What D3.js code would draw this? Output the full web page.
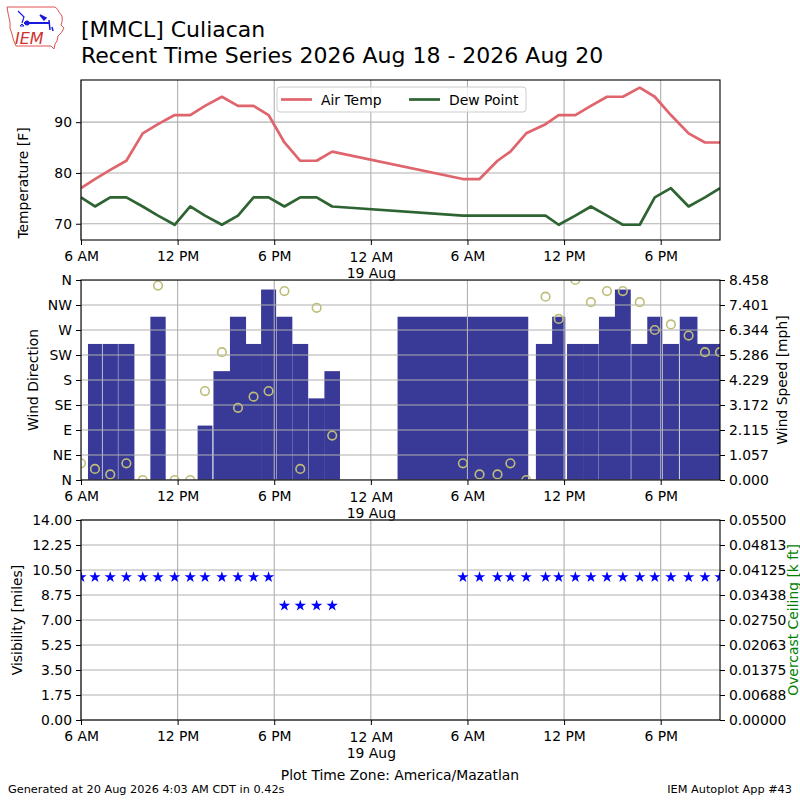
<!DOCTYPE html>
<html>
<head>
<meta charset="utf-8">
<script src="https://cdn.jsdelivr.net/npm/d3@7"></script>
<style>
  body { margin: 0; background: #fff; }
  svg { display: block; }
  text { font-family: "DejaVu Sans", sans-serif; }
</style>
</head>
<body>
<svg id="chart" width="800" height="800"></svg>
<script>
// observation times (local, America/Mazatlan)
const obsTimes = [
  "2026-08-18 06:00", "2026-08-18 06:52", "2026-08-18 07:49", "2026-08-18 08:49",
  "2026-08-18 09:50", "2026-08-18 10:47", "2026-08-18 11:49", "2026-08-18 12:47",
  "2026-08-18 13:42", "2026-08-18 14:45", "2026-08-18 15:45", "2026-08-18 16:43",
  "2026-08-18 17:39", "2026-08-18 18:38", "2026-08-18 19:37", "2026-08-18 20:38",
  "2026-08-18 21:36",
  "2026-08-19 05:43", "2026-08-19 06:45", "2026-08-19 07:52", "2026-08-19 08:40",
  "2026-08-19 09:39", "2026-08-19 10:51", "2026-08-19 11:40", "2026-08-19 12:42",
  "2026-08-19 13:40", "2026-08-19 14:40", "2026-08-19 15:39", "2026-08-19 16:42",
  "2026-08-19 17:38", "2026-08-19 18:38", "2026-08-19 19:44", "2026-08-19 20:45",
  "2026-08-19 21:41"
];
const airTempF = [
  77, 78.8, 80.6, 82.4, 87.8, 89.6, 91.4, 91.4, 93.2, 95, 93.2, 93.2, 91.4, 86, 82.4, 82.4, 84.2,
  78.8, 78.8, 82.4, 84.2, 87.8, 89.6, 91.4, 91.4, 93.2, 95, 95, 96.8, 95, 91.4, 87.8, 86, 86
];
const dewPointF = [
  75.2, 73.4, 75.2, 75.2, 73.4, 71.6, 69.8, 73.4, 71.6, 69.8, 71.6, 75.2, 75.2, 73.4, 75.2, 75.2, 73.4,
  71.6, 71.6, 71.6, 71.6, 71.6, 71.6, 69.8, 71.6, 73.4, 71.6, 69.8, 69.8, 75.2, 77, 73.4, 75.2, 77
];
const windDirDeg = [
  30, 20, 10, 30, 0, 350, 0, 0, 160, 230, 130, 150, 160, 340, 20, 310, 80,
  30, 10, 10, 30, 0, 330, 290, 360, 320, 340, 340, 320, 270, 280, 260, 230, 230
];
const windSpeedKt = [
  5, 5, 5, 5, 0, 6, 0, 0, 2, 4, 6, 5, 7, 6, 5, 3, 4,
  6, 5, 4, 5, 0, 5, 6, 5, 5, 6, 7, 5, 6, 5, 6, 5, 5
];
const visibilityMi = [
  10, 10, 10, 10, 10, 10, 10, 10, 10, 10, 10, 10, 10, 8, 8, 8, 8,
  10, 10, 10, 10, 10, 10, 10, 10, 10, 10, 10, 10, 10, 10, 10, 10, 10
];
const tempTicks = [70, 80, 90];
const dirLabels = ["N", "NE", "E", "SE", "S", "SW", "W", "NW", "N"];
const visTicks = [0, 1.75, 3.5, 5.25, 7, 8.75, 10.5, 12.25, 14];
const ceilTickLabels = ["0.00000", "0.00688", "0.01375", "0.02063", "0.02750",
                        "0.03438", "0.04125", "0.04813", "0.05500"];

const parse = d3.timeParse("%Y-%m-%d %H:%M");
const times = obsTimes.map(parse);
const obs = times.map((t, i) => ({
  t: t,
  prev: i > 0 ? times[i - 1] : t,
  temp: airTempF[i],
  dew: dewPointF[i],
  dir: windDirDeg[i],
  mph: windSpeedKt[i] * 1.15078,
  vis: visibilityMi[i]
}));

const svg = d3.select("#chart");
const FS = 13.9;
const left = 81, right = 720;
const grid = "#b0b0b0";

const x = d3.scaleTime().domain(d3.extent(times)).range([left, right]);
const xTicks = d3.timeHour.every(6).range(times[0], new Date(+times[times.length - 1] + 1));

// panel frames
const panels = {
  temp: { top: 80, bottom: 240 },
  wind: { top: 280, bottom: 480 },
  vis: { top: 520, bottom: 720 }
};

const defs = svg.append("defs");
Object.entries(panels).forEach(([k, p]) => {
  defs.append("clipPath").attr("id", "clip-" + k)
    .append("rect").attr("x", left).attr("y", p.top)
    .attr("width", right - left).attr("height", p.bottom - p.top);
});

function xGrid(g, p) {
  g.selectAll(null).data(xTicks).enter().append("line")
    .attr("x1", d => x(d)).attr("x2", d => x(d))
    .attr("y1", p.top).attr("y2", p.bottom)
    .attr("stroke", grid).attr("stroke-width", 1.1);
}
function yGrid(g, vals, scale) {
  g.selectAll(null).data(vals).enter().append("line")
    .attr("x1", left).attr("x2", right)
    .attr("y1", d => scale(d)).attr("y2", d => scale(d))
    .attr("stroke", grid).attr("stroke-width", 1.1);
}
function xAxis(p) {
  const g = svg.append("g").attr("transform", `translate(0,${p.bottom})`)
    .call(d3.axisBottom(x).tickValues(xTicks).tickSize(5).tickPadding(6).tickSizeOuter(0)
      .tickFormat(d => d.getHours() === 0 ? "12 AM" : d3.timeFormat("%-I %p")(d)));
  g.select(".domain").remove();
  g.selectAll("text").attr("font-size", FS).attr("fill", "#000");
  g.selectAll(".tick").filter(d => d.getHours() === 0).select("text")
    .attr("y", 12.5)
    .append("tspan").attr("x", 0).attr("dy", "1.12em").text(d => d3.timeFormat("%-d %b")(d));
  g.selectAll(".tick line").attr("stroke", "#000");
}
function styleAxis(g) {
  g.select(".domain").remove();
  g.selectAll("text").attr("font-size", FS).attr("fill", "#000").attr("font-family", "DejaVu Sans");
  g.selectAll(".tick line").attr("stroke", "#000");
}
function frame(p) {
  svg.append("rect").attr("x", left).attr("y", p.top)
    .attr("width", right - left).attr("height", p.bottom - p.top)
    .attr("fill", "none").attr("stroke", "#000").attr("stroke-width", 1.1);
}
function yLabel(txt, cx, cy, color) {
  svg.append("text").attr("transform", `translate(${cx},${cy}) rotate(-90)`)
    .attr("text-anchor", "middle").attr("dominant-baseline", "central")
    .attr("font-size", FS).attr("fill", color || "#000").text(txt);
}

// ---------- temperature panel ----------
const pT = panels.temp;
const yT = d3.scaleLinear().domain([66.8, 98.3]).range([pT.bottom, pT.top]);
const gT = svg.append("g");
xGrid(gT, pT);
yGrid(gT, tempTicks, yT);
const clipT = svg.append("g").attr("clip-path", "url(#clip-temp)");
clipT.append("path").datum(obs)
  .attr("d", d3.line().x(d => x(d.t)).y(d => yT(d.temp)))
  .attr("fill", "none").attr("stroke", "#e0646c").attr("stroke-width", 2.7)
  .attr("stroke-linejoin", "round");
clipT.append("path").datum(obs)
  .attr("d", d3.line().x(d => x(d.t)).y(d => yT(d.dew)))
  .attr("fill", "none").attr("stroke", "#2e6432").attr("stroke-width", 2.7)
  .attr("stroke-linejoin", "round");
svg.append("g").attr("transform", `translate(${left},0)`)
  .call(d3.axisLeft(yT).tickValues(tempTicks).tickSize(5).tickPadding(4))
  .call(styleAxis);
xAxis(pT);
frame(pT);
yLabel("Temperature [F]", 23, 183);

// legend
const leg = svg.append("g").attr("transform", "translate(277,87)");
leg.append("rect").attr("width", 249).attr("height", 25).attr("rx", 3)
  .attr("fill", "#fff").attr("fill-opacity", 0.8).attr("stroke", "#cccccc");
const legItems = [
  { name: "Air Temp", color: "#e0646c", x: 4 },
  { name: "Dew Point", color: "#2e6432", x: 132 }
];
legItems.forEach(it => {
  leg.append("line").attr("x1", it.x).attr("x2", it.x + 31).attr("y1", 12.5).attr("y2", 12.5)
    .attr("stroke", it.color).attr("stroke-width", 2.7);
  leg.append("text").attr("x", it.x + 40).attr("y", 17.5).attr("font-size", FS).text(it.name);
});

// ---------- wind panel ----------
const pW = panels.wind;
const yDir = d3.scaleLinear().domain([0, 360]).range([pW.bottom, pW.top]);
const spdMax = d3.max(obs, d => d.mph) * 1.05;
const ySpd = d3.scaleLinear().domain([0, spdMax]).range([pW.bottom, pW.top]);
const spdTicks = d3.range(9).map(i => spdMax * i / 8);
const clipW = svg.append("g").attr("clip-path", "url(#clip-wind)");
clipW.selectAll("rect.bar").data(obs).enter().append("rect")
  .attr("class", "bar")
  .attr("x", d => x(new Date(+d.t - (d.t - d.prev) / 2)))
  .attr("width", d => x(new Date(+d.t + (d.t - d.prev) / 2)) - x(new Date(+d.t - (d.t - d.prev) / 2)))
  .attr("y", d => ySpd(d.mph))
  .attr("height", d => pW.bottom - ySpd(d.mph))
  .attr("fill", "#393997");
xGrid(clipW, pW);
yGrid(clipW, d3.range(0, 361, 45), yDir);
clipW.selectAll("circle").data(obs).enter().append("circle")
  .attr("cx", d => x(d.t)).attr("cy", d => yDir(d.dir)).attr("r", 4.3)
  .attr("fill", "none").attr("stroke", "#bebe7a").attr("stroke-width", 1.6);
svg.append("g").attr("transform", `translate(${left},0)`)
  .call(d3.axisLeft(yDir).tickValues(d3.range(0, 361, 45)).tickSize(5).tickPadding(4)
    .tickFormat((d, i) => dirLabels[i]))
  .call(styleAxis);
svg.append("g").attr("transform", `translate(${right},0)`)
  .call(d3.axisRight(ySpd).tickValues(spdTicks).tickSize(5).tickPadding(4).tickFormat(d3.format(".3f")))
  .call(styleAxis);
xAxis(pW);
frame(pW);
yLabel("Wind Direction", 33, 380);
yLabel("Wind Speed [mph]", 782, 380);

// ---------- visibility panel ----------
const pV = panels.vis;
const yVis = d3.scaleLinear().domain([0, 14]).range([pV.bottom, pV.top]);
const yCeil = d3.scaleLinear().domain([0, 0.055]).range([pV.bottom, pV.top]);
const gV = svg.append("g");
xGrid(gV, pV);
yGrid(gV, visTicks, yVis);
const clipV = svg.append("g").attr("clip-path", "url(#clip-vis)");
clipV.selectAll("path").data(obs).enter().append("path")
  .attr("transform", d => `translate(${x(d.t)},${yVis(d.vis)})`)
  .attr("d", d3.symbol(d3.symbolStar).size(40))
  .attr("fill", "#0000ff");
svg.append("g").attr("transform", `translate(${left},0)`)
  .call(d3.axisLeft(yVis).tickValues(visTicks).tickSize(5).tickPadding(4).tickFormat(d3.format(".2f")))
  .call(styleAxis);
svg.append("g").attr("transform", `translate(${right},0)`)
  .call(d3.axisRight(yCeil).tickValues(d3.range(9).map(i => 0.055 * i / 8)).tickSize(5).tickPadding(4)
    .tickFormat((d, i) => ceilTickLabels[i]))
  .call(styleAxis);
xAxis(pV);
frame(pV);
yLabel("Visibility [miles]", 17, 620);
yLabel("Overcast Ceiling [k ft]", 793, 620, "#008000");

// ---------- titles and footer ----------
svg.append("text").attr("x", 81).attr("y", 37).attr("font-size", 22).text("[MMCL] Culiacan");
svg.append("text").attr("x", 81).attr("y", 63).attr("font-size", 22)
  .text("Recent Time Series 2026 Aug 18 - 2026 Aug 20");
svg.append("text").attr("x", 400).attr("y", 780).attr("text-anchor", "middle")
  .attr("font-size", FS).text("Plot Time Zone: America/Mazatlan");
svg.append("text").attr("x", 8).attr("y", 793).attr("font-size", 11.3)
  .text("Generated at 20 Aug 2026 4:03 AM CDT in 0.42s");
svg.append("text").attr("x", 792).attr("y", 793).attr("font-size", 11.3).attr("text-anchor", "end")
  .text("IEM Autoplot App #43");

// ---------- IEM logo ----------
const logo = svg.append("g");
logo.append("path")
  .attr("d", "M7,7 L55,7 Q58,9 59,12 L62,16 Q63,21 61,25 L64,28 Q62,33 58,36 L57,41 L55,44 L54,49 L51,46 L16,46 Q13,40 12,34 Q9,28 10,22 Q8,14 7,7 Z")
  .attr("fill", "none").attr("stroke", "#e05050").attr("stroke-width", 1);
const blue = "#1a1adf";
logo.append("line").attr("x1", 24).attr("x2", 50).attr("y1", 23).attr("y2", 23)
  .attr("stroke", blue).attr("stroke-width", 2);
logo.append("circle").attr("cx", 27).attr("cy", 23).attr("r", 2.5).attr("fill", blue);
logo.append("path").attr("d", "M18,11 L24,17 L22,23").attr("fill", "none").attr("stroke", blue).attr("stroke-width", 1.2);
logo.append("path").attr("d", "M40,15 L46,18 L44,20 Z").attr("fill", blue).attr("stroke", blue).attr("stroke-width", 1.5);
logo.append("path").attr("d", "M49,20 L50,30 M52,27 L53,31").attr("fill", "none").attr("stroke", blue).attr("stroke-width", 1.5);
logo.append("path").attr("d", "M20,26 L22,24 L24,26 Z").attr("fill", "none").attr("stroke", blue).attr("stroke-width", 1);
logo.append("text").attr("x", 15).attr("y", 44).attr("font-family", "Liberation Serif")
  .attr("font-style", "italic").attr("font-size", 16).attr("fill", "#d03030").text("IEM");
</script>
</body>
</html>
